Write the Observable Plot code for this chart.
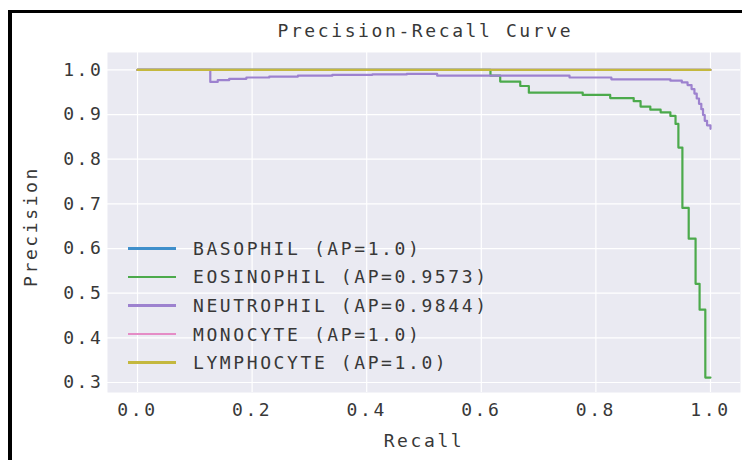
<!DOCTYPE html>
<html>
<head>
<meta charset="utf-8">
<script src="https://cdn.jsdelivr.net/npm/d3@7"></script>
<script src="https://cdn.jsdelivr.net/npm/@observablehq/plot@0.6"></script>
<style>
  html, body { margin: 0; padding: 0; background: #ffffff; }
  #wrap { position: relative; width: 742px; height: 460px; overflow: hidden; background: #fff; }
  #wrap svg text { letter-spacing: 2.6px; }
  #border { position: absolute; left: 8px; top: 10px; width: 800px; height: 500px;
            border-left: 4px solid #000; border-top: 3px solid #000; pointer-events: none; }
  #legend { position: absolute; left: 128px; top: 234px; font-family: "DejaVu Sans Mono", monospace;
            font-size: 18px; letter-spacing: 2.6px; color: #383838; }
  .row { height: 28.6px; display: flex; align-items: center; }
  .sw { width: 48px; height: 2.6px; margin-right: 17px; }
</style>
</head>
<body>
<div id="wrap">
  <div id="chart"></div>
  <div id="legend"></div>
  <div id="border"></div>
</div>
<script>
// ---- data ----
const classes = ["BASOPHIL", "EOSINOPHIL", "NEUTROPHIL", "MONOCYTE", "LYMPHOCYTE"];
const apValues = ["1.0", "0.9573", "0.9844", "1.0", "1.0"];
const colors = ["#3f8fcb", "#4caa4c", "#9d82cf", "#e58cc6", "#c4b83e"];

const basophilRecall = [0, 1];
const basophilPrecision = [1, 1];

const eosinophilRecall = [0, 0.616, 0.633, 0.668, 0.683, 0.777, 0.825, 0.866, 0.878, 0.895, 0.913, 0.930, 0.939, 0.944, 0.951, 0.962, 0.974, 0.981, 0.991, 1.0];
const eosinophilPrecision = [1.0, 0.987, 0.974, 0.964, 0.949, 0.944, 0.937, 0.930, 0.918, 0.911, 0.905, 0.897, 0.879, 0.826, 0.691, 0.622, 0.521, 0.463, 0.311, 0.311];

const neutrophilRecall = [0, 0.127, 0.14, 0.16, 0.19, 0.23, 0.28, 0.34, 0.41, 0.47, 0.523, 0.754, 0.827, 0.93, 0.95, 0.96, 0.967, 0.972, 0.976, 0.98, 0.984, 0.987, 0.99, 0.994, 1.0];
const neutrophilPrecision = [1.0, 0.973, 0.977, 0.980, 0.983, 0.985, 0.987, 0.989, 0.990, 0.991, 0.987, 0.983, 0.979, 0.976, 0.972, 0.966, 0.957, 0.947, 0.936, 0.924, 0.912, 0.899, 0.886, 0.876, 0.868];

const monocyteRecall = [0, 1];
const monocytePrecision = [1, 1];

const lymphocyteRecall = [0, 1];
const lymphocytePrecision = [1, 1];

const xTicks = [0, 0.2, 0.4, 0.6, 0.8, 1.0];
const yTicks = [0.3, 0.4, 0.5, 0.6, 0.7, 0.8, 0.9, 1.0];

const titleText = "Precision-Recall Curve";
const xLabel = "Recall";
const yLabel = "Precision";

// ---- build tables ----
const recalls = [basophilRecall, eosinophilRecall, neutrophilRecall, monocyteRecall, lymphocyteRecall];
const precisions = [basophilPrecision, eosinophilPrecision, neutrophilPrecision, monocytePrecision, lymphocytePrecision];
const series = classes.map((c, k) => recalls[k].map((r, i) => ({cls: c, recall: r, precision: precisions[k][i]})));

const lineMarks = series.map((d, k) =>
  Plot.line(d, {x: "recall", y: "precision", curve: "step-after", stroke: colors[k], strokeWidth: 2.2})
);

const chart = Plot.plot({
  width: 742,
  height: 460,
  marginLeft: 107,
  marginRight: 2,
  marginTop: 52,
  marginBottom: 68,
  style: {fontFamily: "DejaVu Sans Mono", fontSize: "18px", color: "#383838", background: "transparent"},
  x: {domain: [-0.0524, 1.0524]},
  y: {domain: [0.2776, 1.039]},
  marks: [
    Plot.frame({fill: "#eaeaf2", stroke: "none"}),
    Plot.gridX(xTicks, {stroke: "#ffffff", strokeOpacity: 1, strokeWidth: 1.2}),
    Plot.gridY(yTicks, {stroke: "#ffffff", strokeOpacity: 1, strokeWidth: 1.2}),
    ...lineMarks,
    Plot.axisX({ticks: xTicks, tickFormat: d3.format(".1f"), tickSize: 0, tickPadding: 11, label: null, fontSize: 18}),
    Plot.axisY({ticks: yTicks, tickFormat: d3.format(".1f"), tickSize: 0, tickPadding: 4, label: null, fontSize: 18}),
    Plot.text([titleText], {frameAnchor: "top", lineAnchor: "middle", textAnchor: "middle", dy: -21, dx: 1.3, fontSize: 18, fill: "#383838"}),
    Plot.text([xLabel], {frameAnchor: "bottom", lineAnchor: "middle", textAnchor: "middle", dy: 49, dx: 0, fontSize: 18, fill: "#383838"}),
    Plot.text([yLabel], {frameAnchor: "left", lineAnchor: "middle", textAnchor: "middle", dx: -76, dy: 4, rotate: -90, fontSize: 18, fill: "#383838", ariaLabel: "ylabel"})
  ]
});
document.getElementById("chart").appendChild(chart);
d3.select(chart).selectAll('g[aria-label="ylabel"] text').style("letter-spacing", "1.3px");

// ---- legend ----
const legend = d3.select("#legend");
classes.forEach((c, k) => {
  const row = legend.append("div").attr("class", "row");
  row.append("div").attr("class", "sw").style("background", colors[k]);
  row.append("span").text(`${c} (AP=${apValues[k]})`);
});
</script>
</body>
</html>
